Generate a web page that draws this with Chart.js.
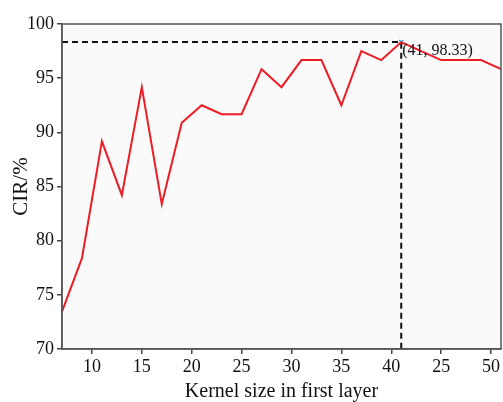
<!DOCTYPE html>
<html>
<head>
<meta charset="utf-8">
<script src="https://cdn.jsdelivr.net/npm/chart.js@4/dist/chart.umd.min.js"></script>
<style>
  html, body { margin: 0; padding: 0; background: #ffffff; }
  #wrap { width: 503px; height: 402px; }
</style>
</head>
<body>
<div id="wrap"><canvas id="myChart" width="503" height="402"></canvas></div>
<script>
// kernel sizes (x) and CIR values (%)
const kernelSizes = [7, 9, 11, 13, 15, 17, 19, 21, 23, 25, 27, 29, 31, 33, 35, 37, 39, 41, 43, 45, 47, 49, 51];
const cirValues = [73.45, 78.38, 89.17, 84.2, 94.17, 83.38, 90.88, 92.5, 91.67, 91.67, 95.83, 94.17, 96.67, 96.67, 92.5, 97.5, 96.67, 98.33, 97.5, 96.67, 96.67, 96.67, 95.83];
const xTickValues = [10, 15, 20, 25, 30, 35, 40, 45, 50];
const xTickLabels = ['10', '15', '20', '25', '30', '35', '40', '25', '50'];
const yTickValues = [70, 75, 80, 85, 90, 95, 100];
const bestPoint = { x: 41, y: 98.33 };
const bestLabel = '(41, 98.33)';

const serif = '"Liberation Serif", "DejaVu Serif", serif';

const points = kernelSizes.map((k, i) => ({ x: k, y: cirValues[i] }));

// light plot background + box around chart area + annotation text
const boxPlugin = {
  id: 'boxPlugin',
  beforeDraw(chart) {
    const { ctx, chartArea: a } = chart;
    ctx.save();
    ctx.fillStyle = '#fafafa';
    ctx.fillRect(a.left, a.top, a.right - a.left, a.bottom - a.top);
    ctx.restore();
  },
  afterDraw(chart) {
    const { ctx, chartArea: a, scales } = chart;
    ctx.save();
    ctx.strokeStyle = '#555555';
    ctx.lineWidth = 1.5;
    ctx.strokeRect(a.left, a.top, a.right - a.left, a.bottom - a.top);
    ctx.fillStyle = '#111111';
    ctx.font = '16px ' + serif;
    ctx.textBaseline = 'alphabetic';
    ctx.fillText(bestLabel, scales.x.getPixelForValue(bestPoint.x) + 1, scales.y.getPixelForValue(bestPoint.y) + 13);
    ctx.restore();
  },
};

new Chart(document.getElementById('myChart').getContext('2d'), {
  type: 'line',
  data: {
    datasets: [
      {
        label: 'CIR',
        data: points,
        borderColor: '#ee1c25',
        borderWidth: 2,
        pointRadius: 0,
        pointHoverRadius: 0,
        tension: 0,
      },
      {
        label: 'guide',
        data: [
          { x: kernelSizes[0], y: bestPoint.y },
          { x: bestPoint.x, y: bestPoint.y },
          { x: bestPoint.x, y: yTickValues[0] },
        ],
        borderColor: '#111111',
        borderWidth: 2,
        borderDash: [6, 4],
        pointRadius: 0,
        pointHoverRadius: 0,
        tension: 0,
      },
      {
        label: 'best',
        data: [bestPoint],
        showLine: false,
        pointStyle: 'crossRot',
        pointRadius: 3,
        pointHoverRadius: 3,
        pointBorderColor: '#3a9fe0',
        pointBorderWidth: 1.5,
      },
    ],
  },
  options: {
    animation: false,
    responsive: false,
    layout: { autoPadding: false, padding: { top: 24, right: 2, left: 9, bottom: 0 } },
    plugins: {
      legend: { display: false },
      tooltip: { enabled: false },
    },
    scales: {
      x: {
        type: 'linear',
        min: 7,
        max: 51,
        afterBuildTicks: (scale) => { scale.ticks = xTickValues.map((v) => ({ value: v })); },
        afterFit: (scale) => {
          scale.height = 53;
          scale.paddingLeft = 0;
          scale.paddingRight = 0;
        },
        ticks: {
          color: '#111111',
          font: { family: serif, size: 18 },
          padding: 2,
          maxRotation: 0,
          callback: (v) => xTickLabels[xTickValues.indexOf(v)],
        },
        grid: { drawOnChartArea: false, drawTicks: true, tickLength: 5, color: '#444444', lineWidth: 1.5 },
        border: { display: true, color: '#555555', width: 1.5 },
        title: {
          display: true,
          text: 'Kernel size in first layer',
          color: '#111111',
          font: { family: serif, size: 20 },
          padding: { top: 0, bottom: -2 },
        },
      },
      y: {
        min: 70,
        max: 100,
        afterBuildTicks: (scale) => { scale.ticks = yTickValues.map((v) => ({ value: v })); },
        afterFit: (scale) => {
          scale.width = 53;
          scale.paddingTop = 0;
          scale.paddingBottom = 0;
        },
        ticks: {
          color: '#111111',
          font: { family: serif, size: 18 },
          padding: 3,
        },
        grid: { drawOnChartArea: false, drawTicks: true, tickLength: 5, color: '#444444', lineWidth: 1.5 },
        border: { display: true, color: '#555555', width: 1.5 },
        title: {
          display: true,
          text: 'CIR/%',
          color: '#111111',
          font: { family: serif, size: 21 },
          padding: { top: 0, bottom: 0 },
        },
      },
    },
  },
  plugins: [boxPlugin],
});
</script>
</body>
</html>
